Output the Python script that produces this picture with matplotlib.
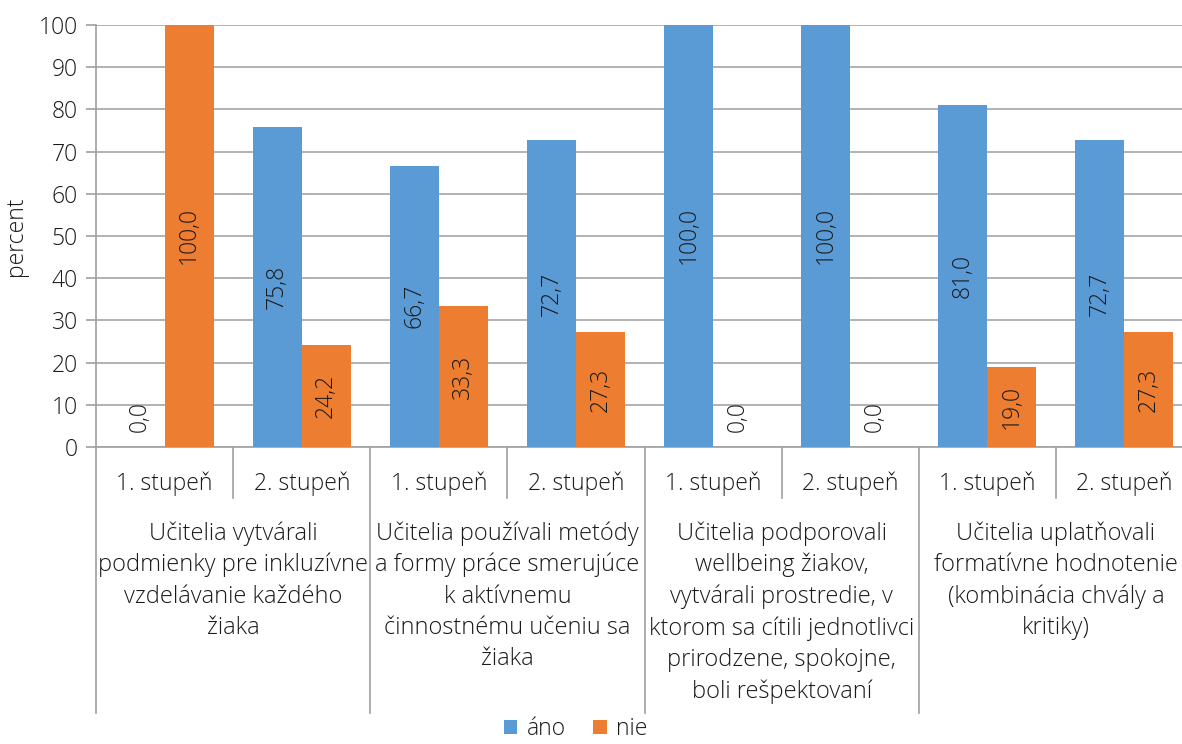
import matplotlib
matplotlib.use("Agg")
import matplotlib.pyplot as plt
from matplotlib.patches import Patch

plt.rcParams['font.family'] = ['Open Sans', 'DejaVu Sans']

subcats = ["1. stupeň", "2. stupeň"] * 4
groups = [
    "Učitelia vytvárali\npodmienky pre inkluzívne\nvzdelávanie každého\nžiaka",
    "Učitelia používali metódy\na formy práce smerujúce\nk aktívnemu\nčinnostnému učeniu sa\nžiaka",
    "Učitelia podporovali\nwellbeing žiakov,\nvytvárali prostredie, v\nktorom sa cítili jednotlivci\nprirodzene, spokojne,\nboli rešpektovaní",
    "Učitelia uplatňovali\nformatívne hodnotenie\n(kombinácia chvály a\nkritiky)",
]
ano = [0.0, 75.8, 66.7, 72.7, 100.0, 100.0, 81.0, 72.7]
nie = [100.0, 24.2, 33.3, 27.3, 0.0, 0.0, 19.0, 27.3]
series_names = ["áno", "nie"]
colors = ["#5B9BD5", "#ED7D31"]

W, H = 1182, 744
fig = plt.figure(figsize=(W / 100, H / 100), dpi=100)
left, right, top, bottom = 96, 1193, 25, 447
ax = fig.add_axes([left / W, 1 - bottom / H, (right - left) / W, (bottom - top) / H])

txt = "#1a1a1a"
grid_c = "#A6A6A6"
fs = 16.5
gfs = 17
weight = "light"

n = len(subcats)
bw = 0.357
xs = list(range(n))
for vals, c, off in [(ano, colors[0], -bw / 2), (nie, colors[1], bw / 2)]:
    ax.bar([x + off for x in xs], vals, width=bw, color=c, zorder=3)
    for x, v in zip(xs, vals):
        if v == 0:
            ax.annotate(f"{v:.1f}".replace(".", ","), (x + off, 0), xytext=(0, 11),
                        textcoords="offset points", rotation=90, ha="center", va="bottom",
                        fontsize=fs, color=txt, weight=weight, zorder=4)
        else:
            ax.text(x + off, v / 2, f"{v:.1f}".replace(".", ","), rotation=90,
                    ha="center", va="center", fontsize=fs, color=txt, weight=weight, zorder=4)

ax.set_xlim(-0.5, n - 0.5)
ax.set_ylim(0, 100)
ax.set_yticks(range(0, 101, 10))
ax.set_yticklabels([str(v) for v in range(0, 101, 10)], fontsize=fs, color=txt, weight=weight)
ax.set_xticks([])
ax.yaxis.grid(True, color=grid_c, linewidth=1.2, zorder=0)
ax.set_axisbelow(True)
for s in ["top", "right"]:
    ax.spines[s].set_visible(False)
for s in ["left", "bottom"]:
    ax.spines[s].set_color("#A0A0A0")
    ax.spines[s].set_linewidth(1.2)
ax.tick_params(axis="y", length=7, width=1.2, color="#A0A0A0", pad=6)
ax.set_ylabel("percent", fontsize=fs, color=txt, weight=weight, labelpad=8)

tr = ax.get_xaxis_transform()
ph = bottom - top
for i in range(n):
    ax.text(i, -37 / ph, subcats[i], ha="center", va="center", fontsize=fs,
            color=txt, weight=weight, transform=tr)
for i in range(1, n, 2):
    ax.plot([i - 0.5, i - 0.5], [0, -51 / ph], transform=tr, color="#A0A0A0",
            linewidth=1.2, clip_on=False)
for g in range(len(groups) + 1):
    ax.plot([2 * g - 0.5, 2 * g - 0.5], [0, -266 / ph], transform=tr, color="#A0A0A0",
            linewidth=1.2, clip_on=False)
for g, lab in enumerate(groups):
    ax.text(2 * g + 0.5, -74 / ph, lab, ha="center", va="top", fontsize=gfs,
            color=txt, weight=weight, transform=tr, linespacing=1.4)

handles = [Patch(facecolor=c, label=nm) for c, nm in zip(colors, series_names)]
fig.legend(handles=handles, loc="lower center", bbox_to_anchor=(0.487, -0.024), ncol=2,
           frameon=False, prop={"size": fs, "weight": weight}, handlelength=0.6,
           handleheight=0.6, handletextpad=0.4, columnspacing=1.2, labelcolor=txt)

fig.savefig("out.png", dpi=100)
